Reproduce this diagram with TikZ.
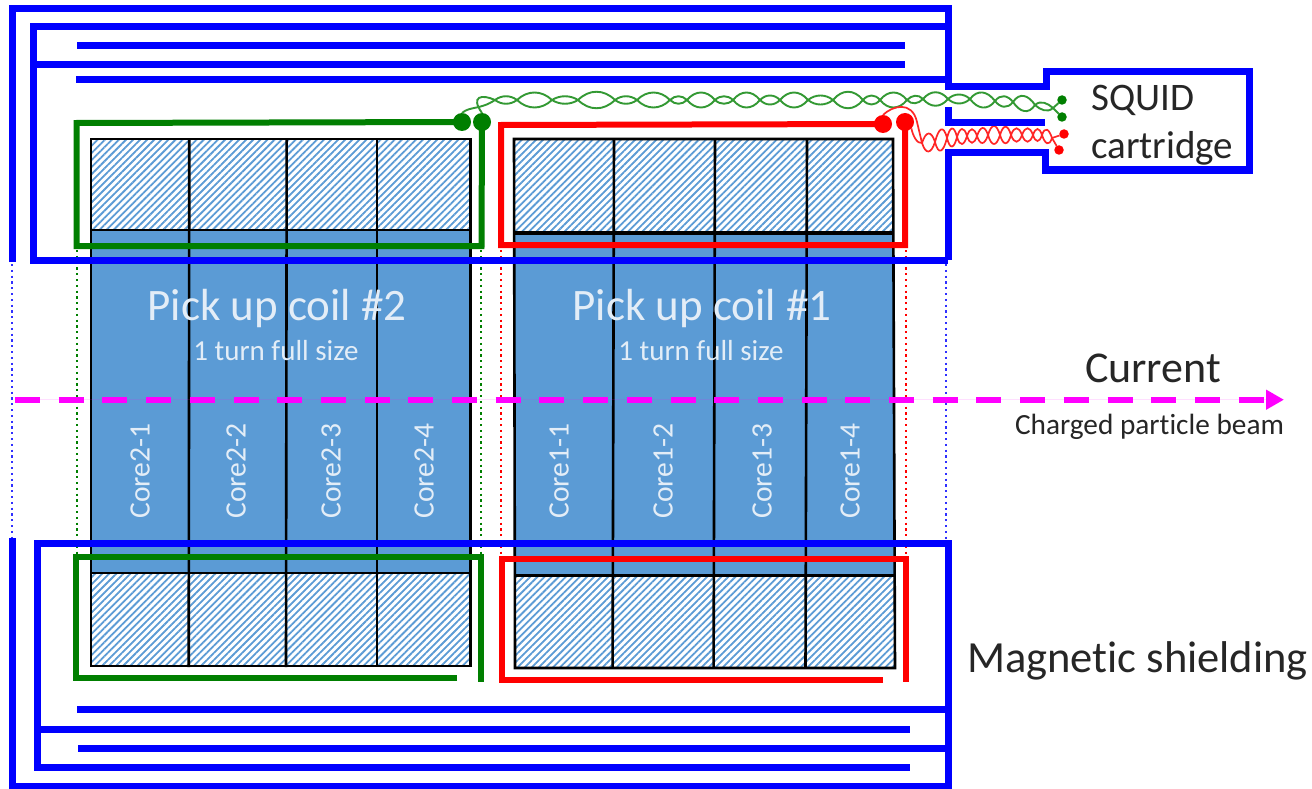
\documentclass[tikz,border=0pt]{standalone}
\usepackage{fontspec}
\setmainfont[Ligatures=NoCommon]{Carlito}
\usepackage{tikz}
\usetikzlibrary{arrows.meta,patterns.meta}
\definecolor{coreblue}{HTML}{5B9BD5}
\definecolor{coiltext}{HTML}{E3EDF7}
\definecolor{coilgreen}{HTML}{007F00}
\definecolor{inkgray}{HTML}{262626}
\definecolor{beampink}{HTML}{FF00FF}
\definecolor{guideblue}{HTML}{3030FF}
\tikzstyle{shield}=[draw=blue, line width=7pt, miter limit=4]
\tikzstyle{greencoil}=[draw=coilgreen, line width=6pt]
\tikzstyle{redcoil}=[draw=red, line width=6pt]
\tikzstyle{core}=[fill=coreblue]
\tikzstyle{hatched}=[pattern={Lines[angle=45, distance=5pt, line width=1.8pt]}, pattern color=coreblue]
\tikzstyle{divider}=[draw=black, line width=2.6pt]
\tikzstyle{fineline}=[line width=2.2pt, dash pattern=on 2.2pt off 3.6pt]
\tikzstyle{greenwire}=[draw=coilgreen!80!white, line width=1.9pt]
\tikzstyle{redwire}=[draw=red!85!white, line width=1.7pt]
\tikzstyle{coildot}=[circle, minimum size=18pt, inner sep=0pt, outer sep=0pt]
\tikzstyle{enddot}=[circle, minimum size=9.5pt, inner sep=0pt, outer sep=0pt]
\tikzstyle{coretext}=[rotate=90, text=coiltext, font=\fontsize{29.6}{30}\selectfont]
\tikzstyle{blacktext}=[text=inkgray, inner sep=0pt]
\begin{document}
\begin{tikzpicture}[x=1pt, y=-1pt]
    \path[fill=white, use as bounding box] (0,0) rectangle (1312,789);

    % cores
    \fill[core] (91,230) rectangle (470.5,573);
    \fill[core] (514,232) rectangle (894,575);
    \path[hatched] (91,139) rectangle (470.5,230);
    \path[hatched] (91,573) rectangle (470.5,666);
    \path[hatched] (514,139) rectangle (893,232);
    \path[hatched] (515,575) rectangle (895,668);
    \draw[divider] (91,139) rectangle (470.5,666);
    \draw[divider] (514,139) -- (893,139) -- (895,668) -- (515,668) -- cycle;
    \draw[divider] (91,230) -- (470.5,230);
    \draw[divider] (91,573) -- (470.5,573);
    \draw[divider, line width=4pt] (514,232.5) -- (893,232.5);
    \draw[divider, line width=3pt] (515,575) -- (895,575);
    \foreach \xa/\xb in {189.3/188.7, 286.7/286, 377/377,
                         614/612.6, 715/713.6, 807/805.5}
        \draw[divider] (\xa,139) -- (\xb,667);

    % dotted guides
    \foreach \x in {12, 946}
        \draw[fineline, guideblue] (\x,264) -- (\x,540);
    \foreach \x in {77, 481}
        \draw[fineline, coilgreen] (\x,250) -- (\x,556);
    \foreach \x in {501, 906}
        \draw[fineline, red] (\x,250) -- (\x,556);

    % coil ends
    \node (g1) [coildot, fill=coilgreen] at (462,122) {};
    \node (g2) [coildot, fill=coilgreen] at (482,122) {};
    \node (r1) [coildot, fill=red] at (883,124) {};
    \node (r2) [coildot, fill=red] at (905,122) {};
    \node (g3) [enddot, fill=coilgreen] at (1062,100) {};
    \node (g4) [enddot, fill=coilgreen] at (1062,117) {};
    \node (r3) [enddot, fill=red] at (1064,134) {};
    \node (r4) [enddot, fill=red] at (1059,150) {};

    % pick up coils
    \draw[greencoil] (g1.center) -- (76.5,123) -- (76.5,246) -- (481.5,246) -- (g2.center);
    \draw[greencoil] (457,678) -- (75.7,678) -- (75.7,557) -- (481,557) -- (481,682);
    \draw[redcoil] (r1.center) -- (501,125) -- (501,245) -- (905,245) -- (r2.center);
    \draw[redcoil] (883,680) -- (502,680) -- (502,559) -- (906,559) -- (906,682);

    % twisted wires
    \foreach \xa/\ya/\xb/\yb/\amp in {
        495/100/517/100/5, 517/100/552/100/10, 552/100/578/100/5, 578/100/615/100/11,
        615/100/637/100/5, 637/100/670/100/10, 670/100/687/100/5, 687/100/715/100/10,
        715/100/733/100/5, 733/100/760/100/10, 760/100/780/100/6, 780/100/808/100/10,
        808/100/833/100/6, 833/100/863/100/11, 863/100/880/100/6, 880/100/907/100/10,
        907/100/923/99/5, 923/99/948/99/9, 948/99/970/99/6, 970/99/995/101/10,
        995/101/1013/102/7, 1013/102/1035/105/10, 1035/105/1053/108/5}
        \draw[greenwire] (\xa,\ya) .. controls ({\xa+0.3*(\xb-\xa)},{\ya-\amp}) and ({\xa+0.7*(\xb-\xa)},{\yb-\amp}) .. (\xb,\yb)
            (\xa,\ya) .. controls ({\xa+0.3*(\xb-\xa)},{\ya+\amp}) and ({\xa+0.7*(\xb-\xa)},{\yb+\amp}) .. (\xb,\yb);
    \draw[greenwire] (g1.north) .. controls (470,106) and (480,110) .. (495,100);
    \draw[greenwire] (g2.north) .. controls (470,96) and (482,94) .. (495,100);
    \draw[greenwire] (1053,108) -- (g3);
    \draw[greenwire] (1053,108) -- (g4);

    \foreach \xa/\ya/\xb/\yb/\amp in {
        922/143/935/142/12, 935/142/947/138/14, 947/138/957/137/12, 957/137/967/136/10,
        967/136/977/136/9, 977/136/988/135/10, 988/135/1000/135/12, 1000/135/1011/135/11,
        1011/135/1022/135/9, 1022/135/1033/135/9, 1033/135/1042/135/8, 1042/135/1052/138/9}
        \draw[redwire] (\xa,\ya) .. controls ({\xa+0.3*(\xb-\xa)},{\ya-\amp}) and ({\xa+0.7*(\xb-\xa)},{\yb-\amp}) .. (\xb,\yb)
            (\xa,\ya) .. controls ({\xa+0.3*(\xb-\xa)},{\ya+\amp}) and ({\xa+0.7*(\xb-\xa)},{\yb+\amp}) .. (\xb,\yb);
    \draw[redwire] (r1.north) .. controls (892,106) and (912,100) .. (917,122) -- (922,143);
    \draw[redwire] (r2.south east) .. controls (913,136) and (917,144) .. (922,143);
    \draw[redwire] (1052,138) -- (r3);
    \draw[redwire] (1052,138) -- (r4);

    % magnetic shielding
    \draw[shield] (12,262) -- (12,9) -- (948,9) -- (948,87) -- (1046,87) -- (1046,72)
        -- (1249,72) -- (1249,170) -- (1045,170) -- (1045,153) -- (948,153) -- (948,260);
    \draw[shield] (948,27) -- (33,27) -- (33,260) -- (948,260);
    \draw[shield] (33,65) -- (905,65);
    \draw[shield] (77,46) -- (905,46);
    \draw[shield] (76,80) -- (948,80);
    \draw[shield] (948,107) -- (948,123) -- (1045,123);
    \draw[shield] (12,538) -- (12,786) -- (948,786) -- (948,543) -- (37,543) -- (37,767) -- (910,767);
    \draw[shield] (37,729) -- (910,729);
    \draw[shield] (77,709) -- (948,709);
    \draw[shield] (78,748) -- (948,748);

    % labels
    \node (coil2) [text=coiltext, font=\fontsize{45}{45}\selectfont] at (277,309) {Pick up coil \#2};
    \node (coil1) [text=coiltext, font=\fontsize{45}{45}\selectfont] at (702,309) {Pick up coil \#1};
    \node (turn2) [text=coiltext, font=\fontsize{29}{29}\selectfont] at (276,351) {1 turn full size};
    \node (turn1) [text=coiltext, font=\fontsize{29}{29}\selectfont] at (701,351) {1 turn full size};
    \foreach \x/\name in {140/Core2-1, 236/Core2-2, 331/Core2-3, 424/Core2-4,
                          559/Core1-1, 663/Core1-2, 762/Core1-3, 850/Core1-4}
        \node (\name) [coretext] at (\x,471) {\name};

    \coordinate (beamstart) at (15,399.7);
    \coordinate (beamend) at (1284,399.7);
    \draw[draw=beampink, fill=beampink, line width=6pt, dash pattern=on 25pt off 18.7pt,
          -{Triangle[length=18pt, width=19pt]}] (beamstart) -- (beamend);

    \node (current) [blacktext, font=\fontsize{44}{44}\selectfont] at (1153,368) {Current};
    \node (beam) [blacktext, font=\fontsize{29.3}{30}\selectfont] at (1149.5,427) {Charged particle beam};
    \node (shielding) [blacktext, font=\fontsize{44.5}{45}\selectfont] at (1137.5,661) {Magnetic shielding};
    \node (squid) [blacktext, font=\fontsize{39}{40}\selectfont, anchor=west] at (1091,100) {SQUID};
    \node (cartridge) [blacktext, font=\fontsize{39}{40}\selectfont, anchor=west] at (1091,148) {cartridge};
\end{tikzpicture}
\end{document}
